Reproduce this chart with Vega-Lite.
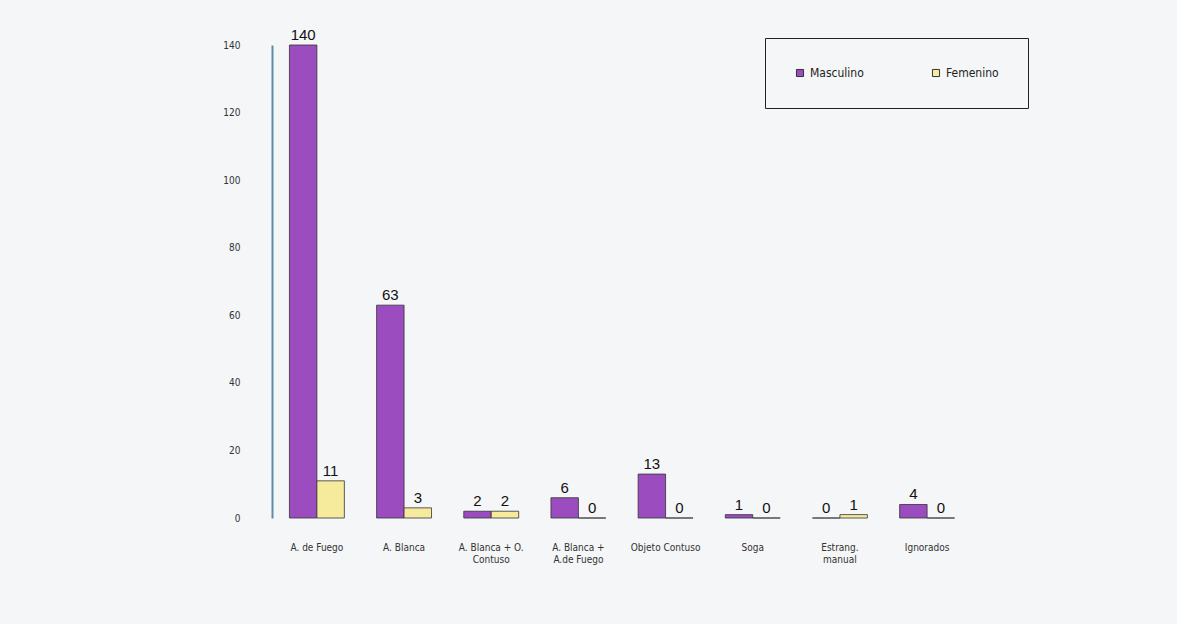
{
  "$schema": "https://vega.github.io/schema/vega-lite/v6.json",
  "width": 700,
  "height": 473,
  "autosize": "none",
  "padding": {"left": 272, "top": 45, "right": 205, "bottom": 106},
  "background": "#f4f6f7",
  "config": {"view": {"stroke": null}},
  "data": {
    "values": [
      {"cat": "A. de Fuego", "sexo": "Masculino", "n": 140},
      {"cat": "A. de Fuego", "sexo": "Femenino", "n": 11},
      {"cat": "A. Blanca", "sexo": "Masculino", "n": 63},
      {"cat": "A. Blanca", "sexo": "Femenino", "n": 3},
      {"cat": "A. Blanca + O.|Contuso", "sexo": "Masculino", "n": 2},
      {"cat": "A. Blanca + O.|Contuso", "sexo": "Femenino", "n": 2},
      {"cat": "A. Blanca +|A.de Fuego", "sexo": "Masculino", "n": 6},
      {"cat": "A. Blanca +|A.de Fuego", "sexo": "Femenino", "n": 0},
      {"cat": "Objeto Contuso", "sexo": "Masculino", "n": 13},
      {"cat": "Objeto Contuso", "sexo": "Femenino", "n": 0},
      {"cat": "Soga", "sexo": "Masculino", "n": 1},
      {"cat": "Soga", "sexo": "Femenino", "n": 0},
      {"cat": "Estrang.|manual", "sexo": "Masculino", "n": 0},
      {"cat": "Estrang.|manual", "sexo": "Femenino", "n": 1},
      {"cat": "Ignorados", "sexo": "Masculino", "n": 4},
      {"cat": "Ignorados", "sexo": "Femenino", "n": 0}
    ]
  },
  "encoding": {
    "x": {
      "field": "cat",
      "type": "nominal",
      "sort": ["A. de Fuego", "A. Blanca", "A. Blanca + O.|Contuso", "A. Blanca +|A.de Fuego", "Objeto Contuso", "Soga", "Estrang.|manual", "Ignorados"],
      "scale": {"paddingInner": 0.37, "paddingOuter": 0.2},
      "axis": {
        "title": null,
        "labelAngle": 0,
        "labelExpr": "split(datum.label, '|')",
        "labelFont": "DejaVu Sans Condensed, Liberation Sans",
        "labelFontSize": 10,
        "labelColor": "#333",
        "labelPadding": 24,
        "domain": false,
        "ticks": false,
        "labelBaseline": "top"
      }
    },
    "xOffset": {"field": "sexo", "type": "nominal", "sort": ["Masculino", "Femenino"], "scale": {"paddingInner": 0, "paddingOuter": 0}},
    "y": {
      "field": "n",
      "type": "quantitative",
      "scale": {"domain": [0, 140], "nice": false},
      "axis": {
        "title": null,
        "values": [0, 20, 40, 60, 80, 100, 120, 140],
        "grid": false,
        "ticks": false,
        "domain": true,
        "domainColor": "#5a8fa8",
        "domainWidth": 2,
        "labelPadding": 32,
        "labelFont": "DejaVu Sans Condensed, Liberation Sans",
        "labelFontSize": 10,
        "labelColor": "#333"
      }
    }
  },
  "layer": [
    {
      "mark": {"type": "bar", "stroke": "#333", "strokeWidth": 0.8},
      "encoding": {
        "color": {
          "field": "sexo",
          "type": "nominal",
          "sort": ["Masculino", "Femenino"],
          "scale": {"domain": ["Masculino", "Femenino"], "range": ["#9b4dbf", "#f6eb9c"]},
          "legend": {
            "title": null,
            "orient": "none",
            "legendX": 493,
            "legendY": -7,
            "direction": "horizontal",
            "strokeColor": "#222",
            "fillColor": "#f4f6f7",
            "padding": 29,
            "columnPadding": 66,
            "symbolType": "square",
            "symbolSize": 50,
            "symbolStrokeColor": "#333",
            "symbolStrokeWidth": 1,
            "labelFont": "DejaVu Sans Condensed, Liberation Sans",
            "labelFontSize": 12,
            "labelColor": "#222"
          }
        }
      }
    },
    {
      "mark": {"type": "text", "dy": -10, "fontSize": 15, "font": "Liberation Sans", "color": "#111"},
      "encoding": {"text": {"field": "n", "type": "quantitative"}}
    }
  ]
}
